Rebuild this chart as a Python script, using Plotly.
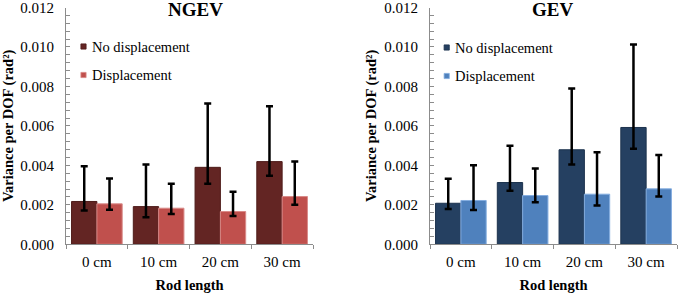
import plotly.graph_objects as go

categories = ["0 cm", "10 cm", "20 cm", "30 cm"]
series_names = ["No displacement", "Displacement"]

# NGEV panel
ngev_nodisp = [0.00217, 0.00191, 0.00390, 0.00419]
ngev_nodisp_err_plus = [0.00178, 0.00214, 0.00324, 0.00281]
ngev_nodisp_err_minus = [0.00046, 0.00054, 0.00083, 0.00071]
ngev_disp = [0.00205, 0.00183, 0.00166, 0.00242]
ngev_disp_err_plus = [0.00129, 0.00124, 0.00100, 0.00177]
ngev_disp_err_minus = [0.00030, 0.00030, 0.00022, 0.00042]

# GEV panel
gev_nodisp = [0.00208, 0.00313, 0.00479, 0.00592]
gev_nodisp_err_plus = [0.00124, 0.00187, 0.00310, 0.00420]
gev_nodisp_err_minus = [0.00029, 0.00042, 0.00074, 0.00108]
gev_disp = [0.00222, 0.00247, 0.00254, 0.00281]
gev_disp_err_plus = [0.00178, 0.00137, 0.00213, 0.00171]
gev_disp_err_minus = [0.00048, 0.00034, 0.00058, 0.00039]

panel_titles = ["NGEV", "GEV"]
x_title = "Rod length"
y_title = "Variance per DOF (rad²)"
y_ticks = [0.000, 0.002, 0.004, 0.006, 0.008, 0.010, 0.012]

FONT = "Liberation Serif"
W, H = 680, 294
AXIS_COLOR = "#8c8c8c"

colors = {
    "NGEV": [("#632523", "#4e1c1a"), ("#C0504D", "#d98a88")],
    "GEV": [("#254061", "#1c324d"), ("#4F81BD", "#85aee0")],
}

fig = go.Figure()

def add_bar(name, vals, ep, em, fill, line, xa, ya):
    fig.add_trace(go.Bar(
        x=categories, y=vals, name=name, showlegend=False,
        marker=dict(color=fill, line=dict(color=line, width=1)),
        error_y=dict(type="data", symmetric=False, array=ep, arrayminus=em,
                     color="black", thickness=2.5, width=3.5),
        xaxis=xa, yaxis=ya,
    ))

c = colors["NGEV"]
add_bar(series_names[0], ngev_nodisp, ngev_nodisp_err_plus, ngev_nodisp_err_minus, c[0][0], c[0][1], "x", "y")
add_bar(series_names[1], ngev_disp, ngev_disp_err_plus, ngev_disp_err_minus, c[1][0], c[1][1], "x", "y")
c = colors["GEV"]
add_bar(series_names[0], gev_nodisp, gev_nodisp_err_plus, gev_nodisp_err_minus, c[0][0], c[0][1], "x2", "y2")
add_bar(series_names[1], gev_disp, gev_disp_err_plus, gev_disp_err_minus, c[1][0], c[1][1], "x2", "y2")

def px_x(p):
    return p / W

def px_y(p):
    return 1 - p / H

ydom = [px_y(244.3), px_y(7.5)]
xdoms = [[px_x(66), px_x(313)], [px_x(430), px_x(677)]]

xaxis_common = dict(
    type="category", range=[-0.5, 3.5], showline=True, linecolor=AXIS_COLOR, linewidth=1,
    ticks="outside", tickson="boundaries", ticklen=4, tickcolor=AXIS_COLOR,
    tickfont=dict(family=FONT, size=15, color="black"), showgrid=False, zeroline=False,
    ticklabelstandoff=4, automargin=False,
    title=dict(text="<b>" + x_title + "</b>", font=dict(family=FONT, size=14.5, color="black"), standoff=10),
)
yaxis_common = dict(
    range=[0, 0.012], tickvals=y_ticks, tickformat=".3f", showline=True, linecolor=AXIS_COLOR,
    linewidth=1, ticks="inside", ticklen=4, tickcolor=AXIS_COLOR, showgrid=False, zeroline=False,
    minor=dict(dtick=0.0004, ticks="inside", ticklen=4, tickcolor=AXIS_COLOR, showgrid=False),
    tickfont=dict(family=FONT, size=15, color="black"), ticklabelstandoff=8, automargin=False,
    ticklabeloverflow="allow",
    title=dict(text="<b>" + y_title + "</b>", font=dict(family=FONT, size=14.5, color="black"), standoff=4),
    domain=ydom,
)

fig.update_layout(
    width=W, height=H, margin=dict(l=0, r=0, t=0, b=0, autoexpand=False),
    paper_bgcolor="white", plot_bgcolor="white",
    barmode="group", bargap=0.18, bargroupgap=0,
    xaxis=dict(domain=xdoms[0], anchor="y", **xaxis_common),
    yaxis=dict(anchor="x", **yaxis_common),
    xaxis2=dict(domain=xdoms[1], anchor="y2", **xaxis_common),
    yaxis2=dict(anchor="x2", **yaxis_common),
    font=dict(family=FONT, color="black"),
)

# Panel titles
for title, cx in zip(panel_titles, [196, 552]):
    fig.add_annotation(text="<b>" + title + "</b>", x=px_x(cx), y=px_y(9), xref="paper", yref="paper",
                       showarrow=False, xanchor="center", yanchor="middle",
                       font=dict(family=FONT, size=19, color="black"))

# Legends (inside each panel)
legend_pos = {"NGEV": (83.5, 90, [46.5, 75]), "GEV": (446.7, 453, [47.5, 76])}
for panel, (mx, tx, ys) in legend_pos.items():
    for i, name in enumerate(series_names):
        fill, line = colors[panel][i]
        yc = ys[i]
        fig.add_shape(type="rect", xref="paper", yref="paper",
                      x0=px_x(mx - 2.6), x1=px_x(mx + 2.6), y0=px_y(yc + 2.6), y1=px_y(yc - 2.6),
                      fillcolor=fill, line=dict(color=line, width=0.8))
        fig.add_annotation(text=name, x=px_x(tx), y=px_y(yc), xref="paper", yref="paper",
                           showarrow=False, xanchor="left", yanchor="middle",
                           font=dict(family=FONT, size=14.5, color="black"))

fig.write_html("out.html", config={"displayModeBar": False},
               post_script="document.body.style.margin='0px';")
